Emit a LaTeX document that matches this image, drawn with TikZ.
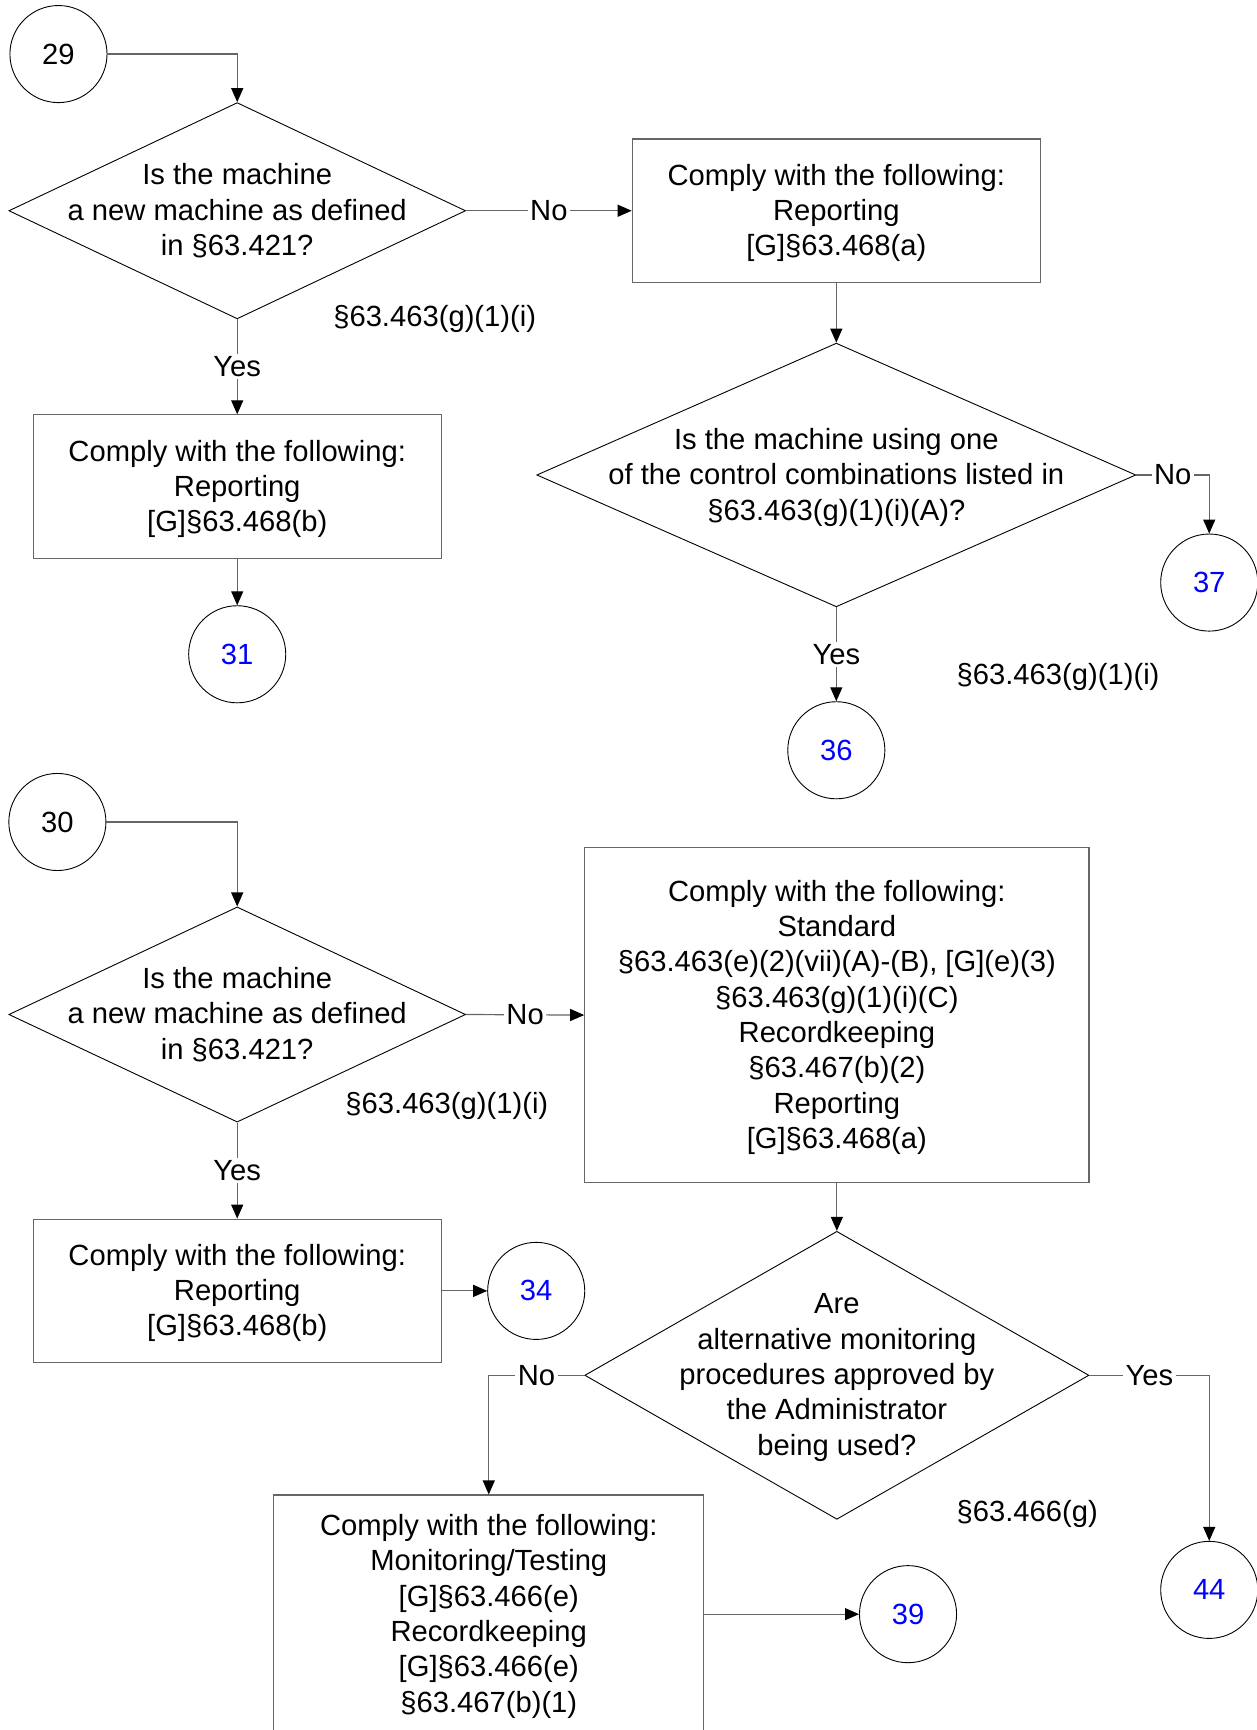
\documentclass[tikz,border=0pt]{standalone}
\usepackage{fontspec}
\setmainfont{Liberation Sans}
\usetikzlibrary{shapes.geometric,arrows.meta}
\definecolor{linegray}{gray}{0.4}
\newcommand\dunit{0.5518pt}
\tikzset{
  txt/.style={font=\fontsize{14.6}{17.66}\selectfont, align=center, inner sep=0pt},
  btxt/.style={txt, yshift=-1.1pt},
  box/.style={draw=linegray, line width=0.55pt, rectangle, inner sep=0pt},
  dia/.style={draw=black, line width=0.45pt, diamond, inner sep=0pt},
  conn/.style={circle, draw=black, line width=0.45pt, minimum size=88*\dunit, inner sep=0pt, txt},
  lnk/.style={conn, text=blue},
  arr/.style={draw=linegray, line width=0.6pt, -{Triangle[length=7pt,width=6pt,color=black]}},
  lab/.style={txt, fill=white, inner sep=1.2pt},
}
\begin{document}
\begin{tikzpicture}[x=0.5518pt, y=-0.5518pt]
\useasboundingbox (0,0) rectangle (1139,1568);
\fill[white] (0,0) rectangle (1139,1568);

% ---------- section 29 ----------
\node[conn] (c29) at (53,49) {29};
\node[dia, minimum width=414*\dunit, minimum height=196*\dunit] (d1) at (215,191) {};
\node[txt] (d1t) at (d1.center) {Is the machine\\a new machine as defined\\in §63.421?};
\node[box, minimum width=370*\dunit, minimum height=130*\dunit] (b1) at (758,191) {};
\node[btxt] (b1t) at (b1.center) {Comply with the following:\\Reporting\\{[G]}§63.468(a)};
\node[box, minimum width=370*\dunit, minimum height=130*\dunit] (b2) at (215,441) {};
\node[btxt] (b2t) at (b2.center) {Comply with the following:\\Reporting\\{[G]}§63.468(b)};
\node[lnk] (c31) at (215,593) {31};
\node[dia, minimum width=543*\dunit, minimum height=239*\dunit] (d2) at (758,430.5) {};
\node[btxt] (d2t) at (d2.center) {Is the machine using one\\of the control combinations listed in\\§63.463(g)(1)(i)(A)?};
\node[lnk] (c37) at (1096,528) {37};
\node[lnk] (c36) at (758,680) {36};
\node[btxt] (r1) at (394,287) {§63.463(g)(1)(i)};
\node[btxt] (r2) at (959,612) {§63.463(g)(1)(i)};

\draw[arr] (c29.east) -| (d1.north);
\draw[arr] (d1.east) -- node[lab]{No} (b1.west);
\draw[arr] (d1.south) -- node[lab]{Yes} (b2.north);
\draw[arr] (b2.south) -- (c31.north);
\draw[arr] (b1.south) -- (d2.north);
\draw[arr] (d2.east) -| node[lab, pos=0.25]{No} (c37.north);
\draw[arr] (d2.south) -- node[lab]{Yes} (c36.north);

% ---------- section 30 ----------
\node[conn] (c30) at (52,745) {30};
\node[dia, minimum width=414*\dunit, minimum height=195*\dunit] (d3) at (215,919.5) {};
\node[txt] (d3t) at (d3.center) {Is the machine\\a new machine as defined\\in §63.421?};
\node[box, minimum width=457*\dunit, minimum height=304*\dunit] (b3) at (758.5,920) {};
\node[btxt] (b3t) at (b3.center) {Comply with the following:\\Standard\\§63.463(e)(2)(vii)(A)-(B), {[G]}(e)(3)\\§63.463(g)(1)(i)(C)\\Recordkeeping\\§63.467(b)(2)\\Reporting\\{[G]}§63.468(a)};
\node[box, minimum width=370*\dunit, minimum height=130*\dunit] (b4) at (215,1170) {};
\node[btxt] (b4t) at (b4.center) {Comply with the following:\\Reporting\\{[G]}§63.468(b)};
\node[lnk] (c34) at (486,1170) {34};
\node[dia, minimum width=457*\dunit, minimum height=261*\dunit] (d4) at (758.5,1246.5) {};
\node[btxt] (d4t) at (d4.center) {Are\\alternative monitoring\\procedures approved by\\the Administrator\\being used?};
\node[box, minimum width=390*\dunit, minimum height=216*\dunit] (b5) at (443,1463) {};
\node[btxt] (b5t) at (b5.center) {Comply with the following:\\Monitoring/Testing\\{[G]}§63.466(e)\\Recordkeeping\\{[G]}§63.466(e)\\§63.467(b)(1)};
\node[lnk] (c39) at (823,1463) {39};
\node[lnk] (c44) at (1096,1441) {44};
\node[btxt] (r3) at (405,1000) {§63.463(g)(1)(i)};
\node[btxt] (r4) at (931,1370) {§63.466(g)};

\draw[arr] (c30.east) -| (d3.north);
\draw[arr] (d3.east) -- node[lab]{No} (b3.west);
\draw[arr] (d3.south) -- node[lab]{Yes} (b4.north);
\draw[arr] (b4.east) -- (c34.west);
\draw[arr] (b3.south) -- (d4.north);
\draw[arr] (d4.west) -| node[lab, pos=0.25]{No} (b5.north);
\draw[arr] (d4.east) -| node[lab, pos=0.25]{Yes} (c44.north);
\draw[arr] (b5.east) -- (c39.west);
\end{tikzpicture}
\end{document}
